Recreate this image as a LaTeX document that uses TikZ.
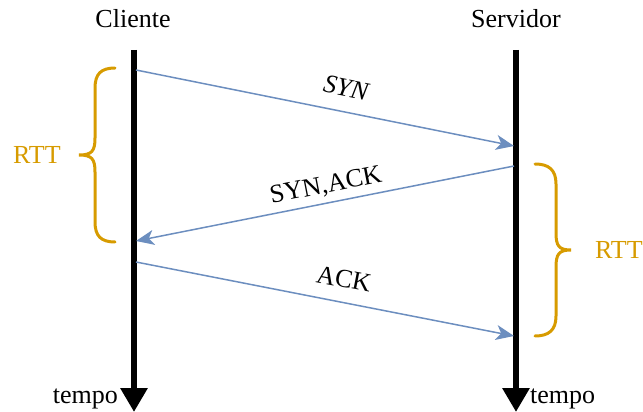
\documentclass[tikz,border=0pt]{standalone}
\usepackage{fontspec}
\setmainfont{Liberation Serif}
\usetikzlibrary{arrows.meta}
\definecolor{msgblue}{HTML}{6C8EBF}
\definecolor{rttorange}{HTML}{D79B00}
\begin{document}
\begin{tikzpicture}[x=1pt,y=-1pt,
  every node/.style={inner sep=0pt,font=\fontsize{26}{31}\selectfont},
  timeline/.style={line width=6pt,-{Triangle[length=24pt,width=26pt]}},
  msg/.style={draw=msgblue,line width=1.5pt,-{Stealth[length=18pt,width=15pt,inset=5pt]}},
  brace/.style={draw=rttorange,line width=3pt,line cap=round},
  rttlabel/.style={text=rttorange}]
\useasboundingbox (0,0) rectangle (643,412);

% endpoints of the two time axes
\coordinate (ctop) at (134,50);
\coordinate (cbot) at (134,412);
\coordinate (stop) at (516,50);
\coordinate (sbot) at (516,412);

% message endpoints on the axes
\coordinate (synA) at (136,70);
\coordinate (synB) at (514,146);
\coordinate (saA) at (514,166);
\coordinate (saB) at (136,241);
\coordinate (ackA) at (136,262);
\coordinate (ackB) at (514,336);

% headers
\node[anchor=base] (cli) at (133,28) {Cliente};
\node[anchor=base] (srv) at (516,28) {Servidor};

% time axes
\draw[timeline] (ctop) -- (cbot);
\draw[timeline] (stop) -- (sbot);
\node[anchor=base east] (tcli) at (118,403) {tempo};
\node[anchor=base west] (tsrv) at (530,403) {tempo};

% handshake messages
\draw[msg] (synA) -- (synB);
\draw[msg] (saA) -- (saB);
\draw[msg] (ackA) -- (ackB);
\node[rotate=-11.25] (lsyn) at (346,88) {\itshape SYN};
\node[rotate=11.1] (lsa) at (326,186) {SYN,ACK};
\node[rotate=-11] (lack) at (344,279) {ACK};

% round-trip braces
\draw[brace] (115,68) .. controls (101,68) and (95,74) .. (95,88)
  -- (95,138) .. controls (95,151) and (92,155) .. (79,155)
  .. controls (92,155) and (95,159) .. (95,172)
  -- (95,222) .. controls (95,236) and (101,242) .. (115,242);
\node[rttlabel,anchor=base west] (rttl) at (13,163) {RTT};

\draw[brace] (535,164) .. controls (549,164) and (556,170) .. (556,184)
  -- (556,233) .. controls (556,246) and (559,250) .. (571,250)
  .. controls (559,250) and (556,254) .. (556,267)
  -- (556,316) .. controls (556,330) and (549,336) .. (535,336);
\node[rttlabel,anchor=base west] (rttr) at (595,258) {RTT};
\end{tikzpicture}
\end{document}
